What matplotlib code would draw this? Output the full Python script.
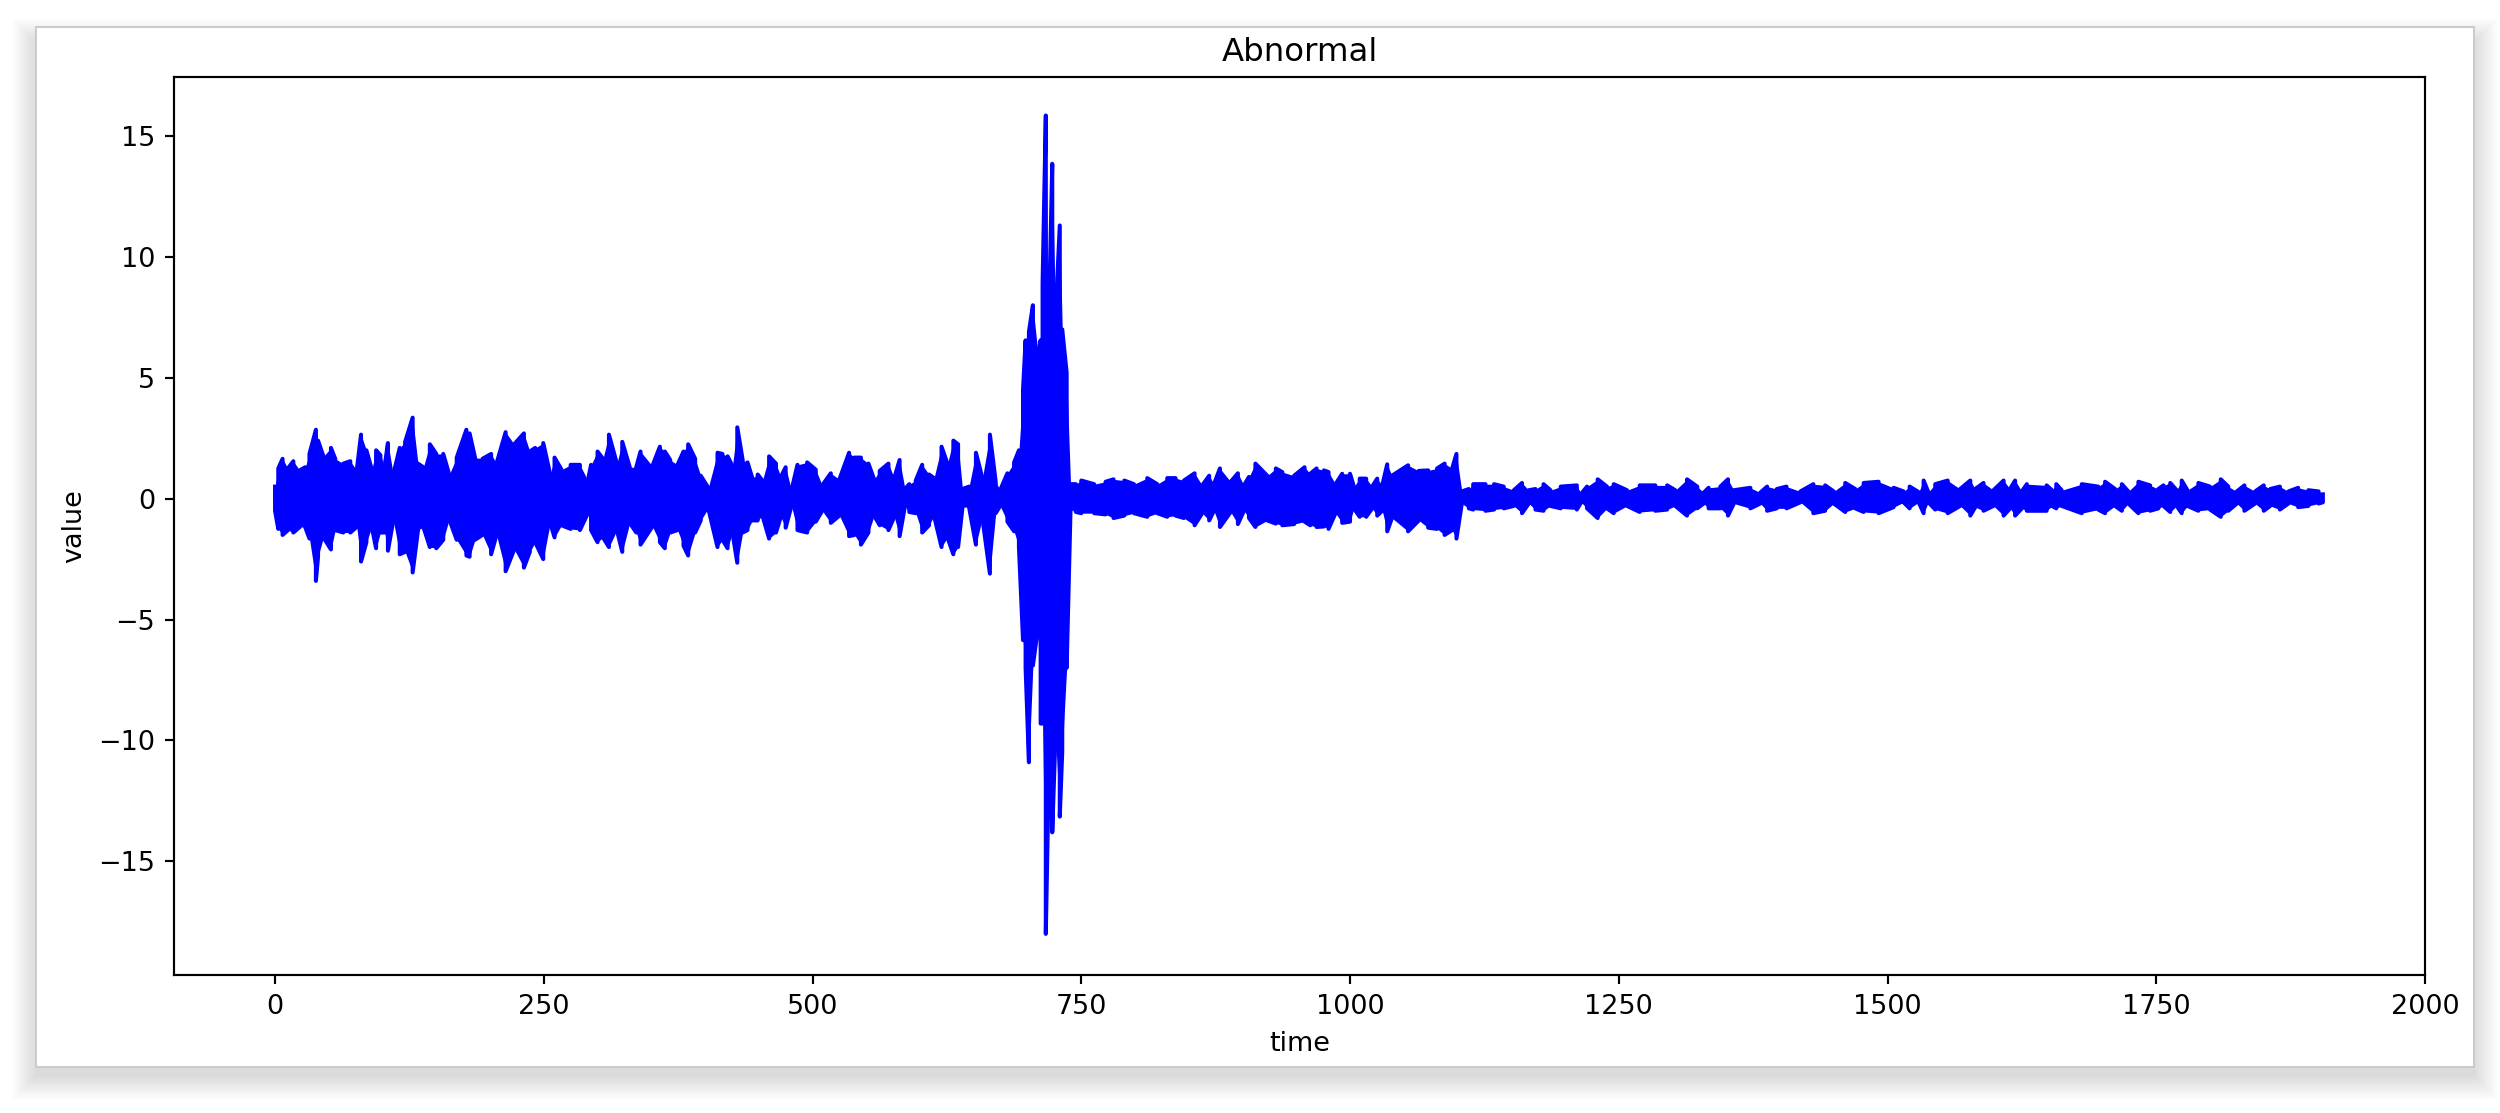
import matplotlib
matplotlib.use("Agg")
import matplotlib.pyplot as plt
from matplotlib.patches import Rectangle

# Envelope of the signal: (time, top, bottom), by stretch
time_a = [0,3,7,12,17,23,28,32,38,40,45,52,56,63.5,70,76,80,85,90,94,98,102,105,110,116,121,128,133,138,144,150,156.5,162,169,178,181,186,193,201,206,214.5,222.5,231.5,237,242,249.5,256,260,266.5,275,283.6,291,294,300,305,310.6,318,323,330,336]
upper_a = [.5,1.25,1.65,1.25,1.55,1.17,1.3,1.85,2.85,2.4,1.75,2.1,1.65,1.45,1.55,1.17,2.65,2.0,1.2,2.0,1.8,1.35,2.3,1.0,2.1,2.35,3.35,1.45,1.3,2.25,1.85,1.85,1.0,1.7,2.85,2.7,1.7,1.65,1.85,1.45,2.75,2.25,2.7,1.95,2.1,2.3,1.0,1.7,1.2,1.4,1.4,.75,1.4,1.95,1.65,2.65,1.45,2.35,1.3,1.3]
lower_a = [-.5,-1.25,-1.5,-1.3,-1.4,-1.17,-1.17,-1.65,-3.4,-2.4,-1.6,-2.1,-1.3,-1.4,-1.4,-1.17,-2.6,-1.8,-1.17,-2.05,-1.4,-1.4,-2.15,-.9,-2.3,-2.2,-3.05,-1.3,-1.17,-2.0,-2.05,-1.7,-.85,-1.7,-2.35,-2.4,-1.7,-1.5,-2.3,-1.5,-3.0,-2.1,-2.85,-2.2,-1.8,-2.5,-1.0,-1.6,-1.1,-1.25,-1.3,-.6,-1.3,-1.8,-1.6,-2.0,-1.3,-2.2,-1.0,-1.4]

time_b = [340,351,358,362.6,367.6,374.4,380,384.3,390.8,396,403,411.6,416.2,421,425.5,430,435,439.5,444,449,453.4,459.6,466,470.5,475,480.4,486,495,503,509,517,525,534,539,545,552,557.3,562.5,570.6,576,581,586,590,596,602,608.4,613,620,625.5,631,635.4,639.5,645.6,652,658,665,670.4,674.5,681.3,687.5,692]
upper_b = [1.95,1.35,2.15,1.95,1.6,1.4,1.95,2.25,1.65,.95,.45,1.9,1.85,1.75,1.35,2.95,1.6,1.5,.85,1.0,.75,1.75,1.45,.9,1.3,.35,1.4,1.5,1.2,.55,1.05,.8,1.9,1.7,1.7,1.45,.8,1.15,1.45,.85,1.6,.4,.6,.75,1.4,1.0,.85,2.15,1.45,2.4,2.25,.4,.5,1.9,.85,2.65,.7,.35,1.05,1.5,2.0]
lower_b = [-1.9,-1.15,-1.8,-2.05,-1.4,-1.3,-1.95,-2.35,-1.4,-.9,-.4,-2.0,-1.7,-2.05,-1.4,-2.65,-1.4,-1.3,-.9,-.9,-.7,-1.65,-1.4,-.75,-1.2,-.3,-1.3,-1.4,-.95,-.5,-1.0,-.7,-1.55,-1.5,-1.9,-1.4,-.7,-1.1,-1.3,-.75,-1.55,-.3,-.55,-.6,-1.4,-1.1,-.7,-2.0,-1.6,-2.3,-2.0,-.35,-.35,-1.9,-.8,-3.1,-.6,-.3,-.95,-1.35,-2.0]

time_c = [695.8,698.2,701.3,705,709.7,712.2,714,717,719.3,723,726,730,732.3,736.4,740]
upper_c = [4.5,6.55,6.9,8.0,6.0,6.55,8.9,15.85,6.3,13.85,7.5,11.3,7.0,5.2,.6]
lower_c = [-5.85,-7.0,-10.9,-6.9,-5.35,-9.3,-9.3,-18.0,-12.5,-13.8,-9.8,-13.15,-10.45,-7.0,-.45]

time_d = [745,750,762,772.6,780,790,799,811.4,820.7,830,837.7,845.5,855.4,862.5,869,873.4,879,889,895.7,901.3,906,912,923,931,937,948,957.7,963,968.9,975.7,980,986.5,992.7,1000,1003.6,1009,1015,1020.6,1025.3,1030,1034.6,1039,1054,1064,1072.7,1081,1088,1095,1099]
upper_d = [.6,.75,.6,.7,.8,.75,.6,.85,.6,.85,.85,.75,1.05,.55,.95,.6,1.25,.7,1.05,.55,.9,1.45,.95,1.25,1.1,.95,1.3,1.03,1.25,1.17,1.1,.6,1.03,1.03,.5,.83,.83,.5,.83,.55,1.42,.95,1.38,1.15,1.17,1.25,1.45,1.25,1.85]
lower_d = [-.55,-.6,-.6,-.65,-.8,-.7,-.6,-.75,-.6,-.75,-.7,-.8,-1.1,-.6,-.9,-.5,-1.17,-.55,-1.05,-.5,-.8,-1.17,-.9,-1.03,-1.1,-1.05,-.95,-1.1,-1.17,-1.15,-1.25,-.6,-1.0,-.95,-.4,-.75,-.75,-.4,-.7,-.5,-1.35,-.8,-1.35,-.9,-1.2,-1.25,-1.5,-1.3,-1.65]

time_e = [1104,1110.5,1114.6,1126,1134,1143,1152.4,1160,1166.3,1172.5,1180,1186.5,1196,1211,1215,1220.5,1230.4,1239,1245.3,1257.7,1269.5,1284,1295,1302.6,1313.5,1323,1329,1333.6,1344.5,1351.6,1357,1372.4,1381.7,1388,1397,1406,1419,1431,1442,1450,1460.7,1470,1477.8,1491.7,1505.7,1515,1520.6,1529,1533.6,1538,1544.4,1556]
upper_e = [.3,.4,.6,.6,.6,.5,.35,.65,.35,.4,.6,.35,.5,.55,.2,.5,.8,.5,.6,.35,.55,.55,.55,.35,.8,.5,.25,.45,.5,.8,.35,.45,.25,.5,.4,.5,.3,.6,.55,.3,.65,.4,.65,.7,.45,.3,.5,.27,.75,.27,.6,.75]
lower_e = [-.2,-.4,-.45,-.5,-.45,-.4,-.3,-.6,-.2,-.45,-.5,-.3,-.4,-.45,-.15,-.4,-.8,-.4,-.6,-.3,-.55,-.5,-.45,-.3,-.7,-.4,-.2,-.4,-.4,-.7,-.2,-.4,-.2,-.5,-.4,-.4,-.15,-.6,-.5,-.2,-.55,-.4,-.55,-.6,-.35,-.15,-.4,-.15,-.6,-.15,-.45,-.6]

time_f = [1567.6,1577,1581.6,1589.3,1598.6,1608,1614,1618.7,1625,1629.6,1648,1653,1657,1662,1680.7,1696,1702.4,1711.7,1718,1724,1733.4,1744.3,1752,1756.7,1763,1769,1773.7,1779,1789.2,1800,1810,1817,1825,1832,1842,1850,1856,1865,1873,1882,1891.5,1901,1905]
upper_f = [.4,.75,.4,.65,.35,.75,.4,.75,.3,.6,.55,.35,.6,.35,.6,.5,.7,.4,.6,.3,.7,.55,.4,.55,.65,.35,.75,.35,.65,.5,.8,.5,.3,.55,.3,.55,.4,.5,.3,.45,.35,.3,.18]
lower_f = [-.3,-.7,-.35,-.5,-.3,-.7,-.4,-.7,-.4,-.5,-.5,-.3,-.4,-.3,-.6,-.45,-.6,-.3,-.5,-.2,-.6,-.5,-.4,-.3,-.55,-.3,-.6,-.3,-.5,-.45,-.75,-.5,-.2,-.5,-.2,-.5,-.3,-.45,-.2,-.35,-.3,-.2,-.15]

x_ticks = [0, 250, 500, 750, 1000, 1250, 1500, 1750, 2000]
y_ticks = [-15, -10, -5, 0, 5, 10, 15]

time = time_a + time_b + time_c + time_d + time_e + time_f
upper = upper_a + upper_b + upper_c + upper_d + upper_e + upper_f
lower = lower_a + lower_b + lower_c + lower_d + lower_e + lower_f
assert len(time) == len(upper) == len(lower)

W, H = 2500, 1113
fig = plt.figure(figsize=(W / 194, H / 194), dpi=194, facecolor="white")

# soft window shadow and card
cx0, cy0, cx1, cy1 = 36, 27, 2474, 1067
for i in range(12):
    g = (12 - i) * 2.0
    fig.add_artist(Rectangle(((cx0 - g + 1) / W, 1 - (cy1 + g + 8) / H),
                             (cx1 - cx0 + 2 * g - 2) / W, (cy1 - cy0 + 2 * g - 8) / H,
                             transform=fig.transFigure, facecolor="black",
                             edgecolor="none", alpha=0.013, zorder=-5))
fig.add_artist(Rectangle((cx0 / W, 1 - cy1 / H), (cx1 - cx0) / W, (cy1 - cy0) / H,
                         transform=fig.transFigure, facecolor="white",
                         edgecolor="#c9c9c9", linewidth=0.7, zorder=-4))

ax = fig.add_axes([174 / W, 1 - 975 / H, (2425 - 174) / W, (975 - 77) / H])
ax.patch.set_alpha(0)

# the trace runs down and up through each read top and bottom
line_x, line_y = [], []
for i, (t, u, l) in enumerate(zip(time, upper, lower)):
    line_x += [t, t]
    line_y += [u, l] if i % 2 == 0 else [l, u]
ax.fill_between(time, lower, upper, color="blue", linewidth=0)
ax.plot(line_x, line_y, color="blue", linewidth=1.5)

ax.set_xlim(-94, 2000)
ax.set_ylim(-19.7, 17.44)
ax.set_xticks(x_ticks)
ax.set_yticks(y_ticks)
ax.set_title("Abnormal")
ax.set_xlabel("time")
ax.set_ylabel("value")

fig.savefig("out.png", dpi=194)
